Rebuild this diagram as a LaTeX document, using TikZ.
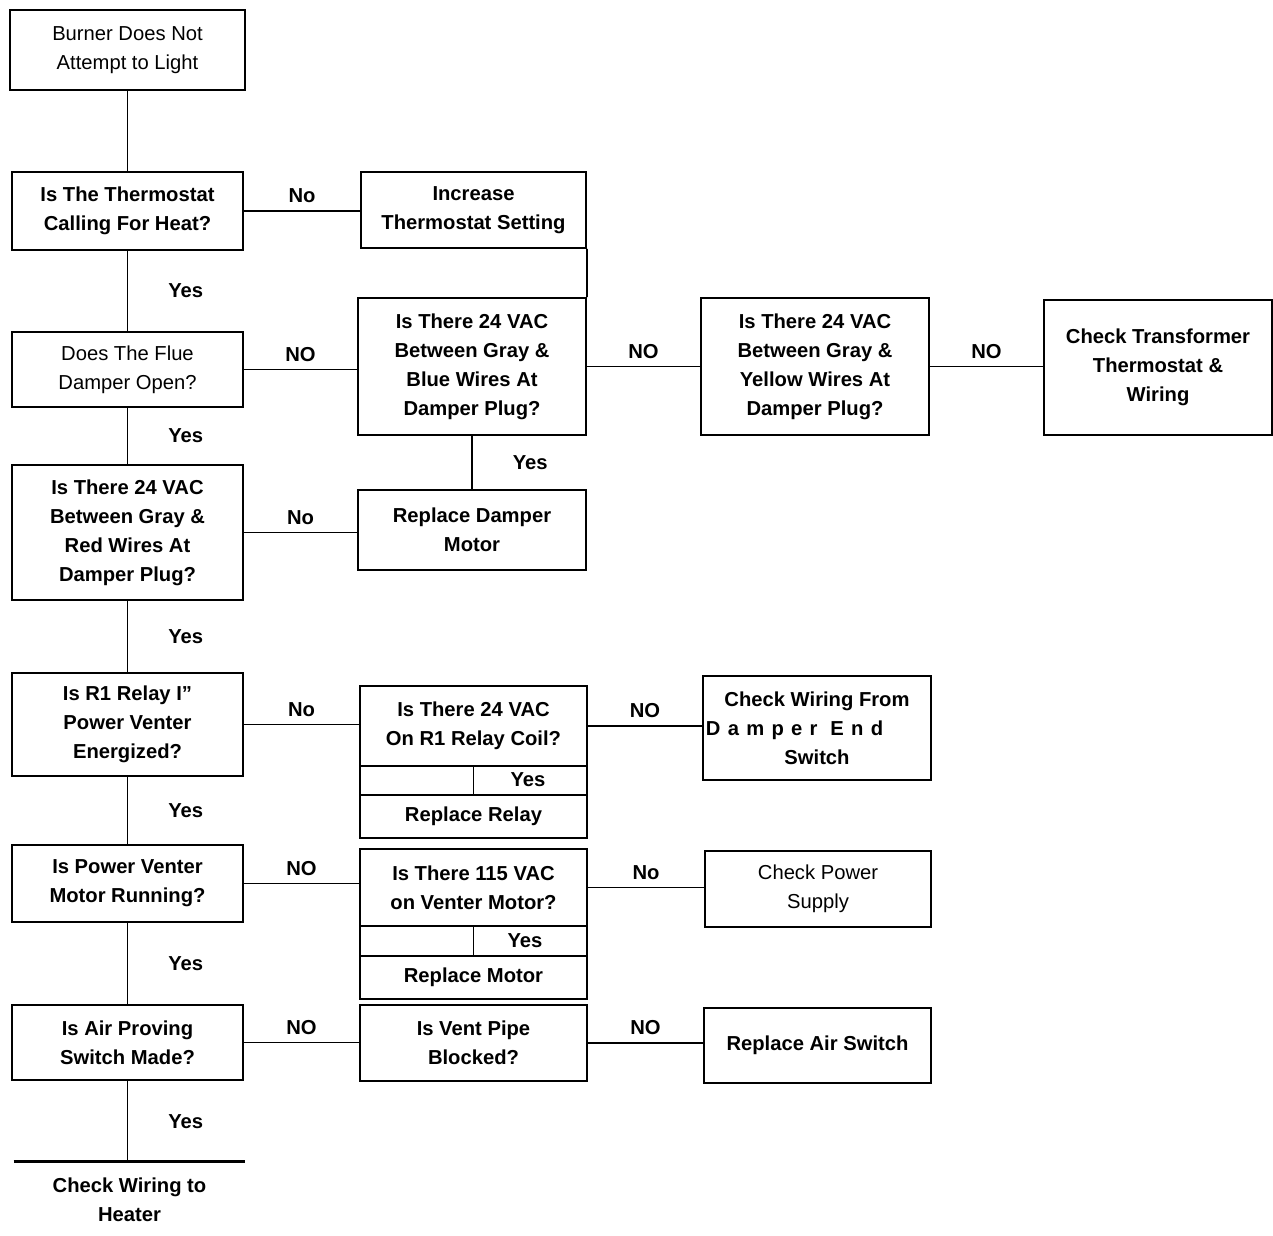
\documentclass[tikz,border=0pt]{standalone}
\usepackage{fontspec}
\setmainfont{Liberation Sans}
\usepackage{tikz}

\newcommand{\chartfont}{\fontsize{11.5}{16.5}\selectfont}

\begin{document}
\begin{tikzpicture}[
        x=0.02cm, y=-0.02cm,
        box/.style={
            draw,
            rectangle,
            line width=1.1pt,
            align=center,
            font=\chartfont\bfseries,
            inner sep=1pt
        },
        lightbox/.style={
            box,
            font=\chartfont
        },
        boxsize/.style 2 args={
            minimum width=#1*0.02cm,
            minimum height=#2*0.02cm
        },
        line/.style={
            line width=1pt
        },
        lbl/.style={
            font=\chartfont\bfseries,
            inner sep=0pt
        },
        nolbl/.style={lbl, midway, above=4pt},
        yeslbl/.style={lbl, midway, right=0.8cm}
    ]
    \useasboundingbox (0,0) rectangle (1273,1235);

    % left column
    \node[lightbox, boxsize={235}{80}] (burner) at (127.5,50) {Burner Does Not\\Attempt to Light};
    \node[box, boxsize={231}{78}] (thermo) at (127.5,211) {Is The Thermostat\\Calling For Heat?};
    \node[lightbox, boxsize={231}{75}] (flue) at (127.5,369.5) {Does The Flue\\Damper Open?};
    \node[box, boxsize={231}{135}] (redwires) at (127.5,532.5) {Is There 24 VAC\\Between Gray \&\\Red Wires At\\Damper Plug?};
    \node[box, boxsize={231}{103}] (relayin) at (127.5,724.5) {Is R1 Relay I”\\Power Venter\\Energized?};
    \node[box, boxsize={231}{77}] (venter) at (127.5,883.5) {Is Power Venter\\Motor Running?};
    \node[box, boxsize={231}{75}] (airproving) at (127.5,1042.5) {Is Air Proving\\Switch Made?};
    \node[lbl, minimum width=231*0.02cm, minimum height=76*0.02cm, align=center] (heater) at (129.5,1200) {Check Wiring to\\Heater};

    % middle column
    \node[box, boxsize={225}{76}] (increase) at (473.5,210) {Increase\\Thermostat Setting};
    \node[box, boxsize={228}{137}] (grayblue) at (472,366.5) {Is There 24 VAC\\Between Gray \&\\Blue Wires At\\Damper Plug?};
    \node[box, boxsize={228}{80}] (dampermotor) at (472,530) {Replace Damper\\Motor};
    \node[box, boxsize={227}{80}] (coil) at (473.5,726) {Is There 24 VAC\\On R1 Relay Coil?};
    \node[box, boxsize={227}{29}] (yesrelay) at (473.5,780.5) {};
    \node[box, boxsize={227}{43}] (relay) at (473.5,816.5) {Replace Relay};
    \node[box, boxsize={227}{77}] (vac115) at (473.5,887.5) {Is There 115 VAC\\on Venter Motor?};
    \node[box, boxsize={227}{30}] (yesmotor) at (473.5,941) {};
    \node[box, boxsize={227}{43}] (motor) at (473.5,977.5) {Replace Motor};
    \node[box, boxsize={227}{76}] (ventpipe) at (473.5,1043) {Is Vent Pipe\\Blocked?};

    % right columns
    \node[box, boxsize={228}{137}] (grayyellow) at (815,366.5) {Is There 24 VAC\\Between Gray \&\\Yellow Wires At\\Damper Plug?};
    \node[box, boxsize={228}{135}] (transformer) at (1158,367.5) {Check Transformer\\Thermostat \&\\Wiring};
    \node[box, boxsize={228}{104}] (endswitch) at (817,728) {Check Wiring From\\\kern-0.9cm{\addfontfeatures{LetterSpace=36}Damper End}\\Switch};
    \node[lightbox, boxsize={226}{76}] (supply) at (818,889) {Check Power\\Supply};
    \node[box, boxsize={227}{75}] (airswitch) at (817.5,1045.5) {Replace Air Switch};

    % yes branches
    \draw[line] (burner.south) -- (thermo.north);
    \draw[line] (thermo.south) -- (flue.north) node[yeslbl] (y1) {Yes};
    \draw[line] (flue.south) -- (redwires.north) node[yeslbl] (y2) {Yes};
    \draw[line] (redwires.south) -- (relayin.north) node[yeslbl] (y3) {Yes};
    \draw[line] (relayin.south) -- (venter.north) node[yeslbl] (y4) {Yes};
    \draw[line] (venter.south) -- (airproving.north) node[yeslbl] (y5) {Yes};
    \draw[line] (airproving.south) -- (airproving.south |- heater.north) node[yeslbl] (y6) {Yes};
    \draw[line width=1.5pt] (heater.north west) -- (heater.north east);
    \draw[line] (grayblue.south) -- (dampermotor.north) node[yeslbl] (y7) {Yes};
    \draw[line] (coil.south) -- (relay.north);
    \node[lbl] (y8) at (528,780) {Yes};
    \draw[line] (vac115.south) -- (motor.north);
    \node[lbl] (y9) at (525,941) {Yes};
    \draw[line] (increase.south east) -- (grayblue.north east);

    % no branches
    \draw[line] (thermo.east) -- (thermo.east -| increase.west) node[nolbl] (n1) {No};
    \draw[line] (flue.east) -- (flue.east -| grayblue.west) node[nolbl] (n2) {NO};
    \draw[line] (grayblue.east) -- (grayyellow.west) node[nolbl] (n3) {NO};
    \draw[line] (grayyellow.east) -- (grayyellow.east -| transformer.west) node[nolbl] (n4) {NO};
    \draw[line] (redwires.east) -- (redwires.east -| dampermotor.west) node[nolbl] (n5) {No};
    \draw[line] (relayin.east) -- (relayin.east -| coil.west) node[nolbl] (n6) {No};
    \draw[line] (coil.east) -- (coil.east -| endswitch.west) node[nolbl] (n7) {NO};
    \draw[line] (venter.east) -- (venter.east -| vac115.west) node[nolbl] (n8) {NO};
    \draw[line] (vac115.east) -- (vac115.east -| supply.west) node[nolbl] (n9) {No};
    \draw[line] (airproving.east) -- (airproving.east -| ventpipe.west) node[nolbl] (n10) {NO};
    \draw[line] (ventpipe.east) -- (ventpipe.east -| airswitch.west) node[nolbl] (n11) {NO};

\end{tikzpicture}
\end{document}
